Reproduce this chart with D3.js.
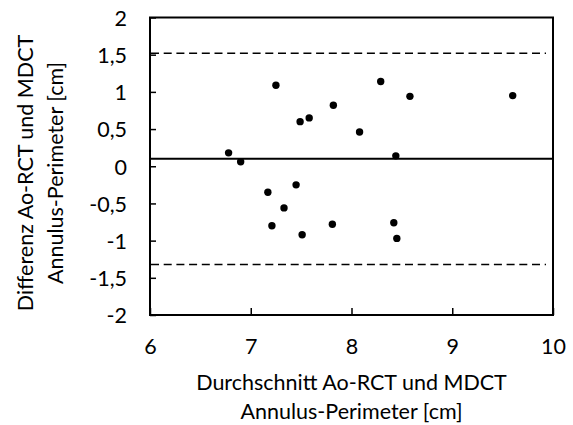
<!DOCTYPE html>
<html>
<head>
<meta charset="utf-8">
<script src="https://cdn.jsdelivr.net/npm/d3@7"></script>
<style>
  html, body { margin: 0; padding: 0; background: #fff; }
  svg { display: block; }
  text { font-family: "Lato", "Liberation Sans", sans-serif; fill: #000; }
</style>
</head>
<body>
<svg id="chart" width="573" height="425"></svg>
<script>
// Bland-Altman: mean of the two perimeter measurements vs. their difference (cm)
const meanValues = [7.25, 8.29, 8.58, 9.60, 7.82, 7.58, 7.49, 8.08, 6.78, 6.90, 8.44,
                    7.45, 7.17, 7.33, 7.21, 7.81, 7.51, 8.42, 8.45];
const diffValues = [1.09, 1.14, 0.94, 0.95, 0.82, 0.65, 0.60, 0.46, 0.18, 0.06, 0.14,
                    -0.25, -0.35, -0.56, -0.80, -0.78, -0.92, -0.76, -0.97];
const meanDiff = 0.10;
const limitsOfAgreement = [1.52, -1.32];
const xTicks = [6, 7, 8, 9, 10];
const yTicks = [2, 1.5, 1, 0.5, 0, -0.5, -1, -1.5, -2];

const svg = d3.select("#chart");
const FONT = "21.5px";
const x = d3.scaleLinear().domain([6, 10]).range([150, 553]);
const y = d3.scaleLinear().domain([-2, 2]).range([315, 17.5]);
const fmt = d => String(d).replace(".", ",");

// limits of agreement (dashed)
svg.selectAll("line.loa").data(limitsOfAgreement).join("line")
  .attr("class", "loa")
  .attr("x1", x(6) + 1).attr("x2", x(10) - 7)
  .attr("y1", d => y(d)).attr("y2", d => y(d))
  .attr("stroke", "#000").attr("stroke-width", 1.6)
  .attr("stroke-dasharray", "8,4.7");

// mean difference
svg.append("line")
  .attr("x1", x(6)).attr("x2", x(10))
  .attr("y1", y(meanDiff)).attr("y2", y(meanDiff))
  .attr("stroke", "#000").attr("stroke-width", 2);

// points
svg.selectAll("circle").data(meanValues).join("circle")
  .attr("cx", d => x(d))
  .attr("cy", (d, i) => y(diffValues[i]))
  .attr("r", 3.7)
  .attr("fill", "#000");

// plot frame
svg.append("rect")
  .attr("x", x(6)).attr("y", y(2))
  .attr("width", x(10) - x(6)).attr("height", y(-2) - y(2))
  .attr("fill", "none").attr("stroke", "#000").attr("stroke-width", 2);

// axes with inward ticks
const yAxis = d3.axisLeft(y).tickValues(yTicks).tickSizeInner(-6).tickSizeOuter(0)
  .tickPadding(23).tickFormat(fmt);
const gy = svg.append("g").attr("transform", `translate(${x(6)},0)`).call(yAxis);
gy.select(".domain").remove();
gy.selectAll(".tick line").attr("stroke-width", 1.5);
gy.selectAll("text").style("font-size", FONT).attr("dy", "0.36em");

const xAxis = d3.axisBottom(x).tickValues(xTicks).tickSizeInner(-7).tickSizeOuter(0)
  .tickPadding(24).tickFormat(fmt);
const gx = svg.append("g").attr("transform", `translate(0,${y(-2)})`).call(xAxis);
gx.select(".domain").remove();
gx.selectAll(".tick line").attr("stroke-width", 1.5);
gx.selectAll("text").style("font-size", FONT);

// axis titles
const xTitle = svg.append("text").attr("text-anchor", "middle").style("font-size", FONT);
xTitle.append("tspan").attr("x", (x(6) + x(10)) / 2).attr("y", 390).text("Durchschnitt Ao-RCT und MDCT");
xTitle.append("tspan").attr("x", (x(6) + x(10)) / 2).attr("y", 419).text("Annulus-Perimeter [cm]");

const yTitle = svg.append("text").attr("text-anchor", "middle").style("font-size", FONT)
  .attr("transform", "translate(0,173) rotate(-90)");
yTitle.append("tspan").attr("x", 0).attr("y", 33).text("Differenz Ao-RCT und MDCT");
yTitle.append("tspan").attr("x", 0).attr("y", 63).text("Annulus-Perimeter [cm]");
</script>
</body>
</html>
